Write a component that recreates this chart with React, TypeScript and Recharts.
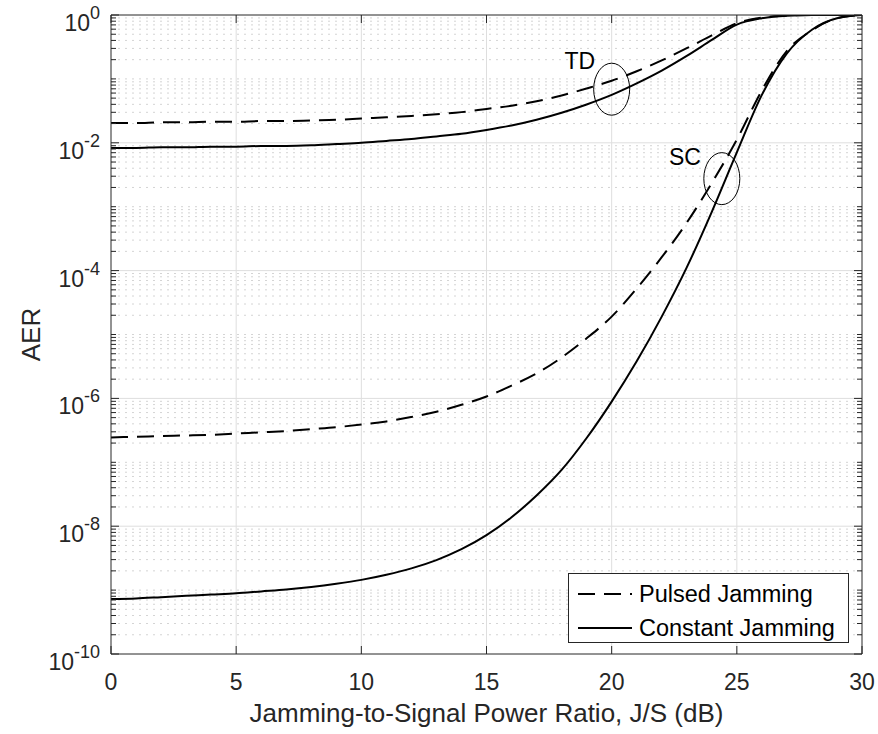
import { LineChart, Line, XAxis, YAxis, ReferenceLine, ReferenceDot } from "recharts";

const FONT = "'Liberation Sans', Arial, Helvetica, sans-serif";
const INK = "#262626";

// J/S in dB
const jsDb = [0, 1, 2, 3, 4, 5, 6, 7, 8, 9, 10, 11, 12, 13, 14, 15, 16, 17, 18, 19, 20, 21, 22, 23, 24, 25, 26, 27, 28, 29, 30];

// log10(AER)
const tdPulsedLog = [-1.69, -1.69, -1.68, -1.68, -1.67, -1.67, -1.66, -1.66, -1.65, -1.64, -1.62, -1.6, -1.58, -1.555, -1.52, -1.47, -1.42, -1.35, -1.26, -1.15, -1.03, -0.88, -0.71, -0.52, -0.32, -0.13, -0.04, -0.01, 0, 0, 0];
const tdConstLog = [-2.08, -2.08, -2.07, -2.07, -2.06, -2.06, -2.05, -2.05, -2.04, -2.02, -2.0, -1.97, -1.94, -1.9, -1.86, -1.8, -1.73, -1.64, -1.53, -1.4, -1.25, -1.07, -0.87, -0.64, -0.39, -0.15, -0.05, -0.01, 0, 0, 0];
const scPulsedLog = [-6.61, -6.6, -6.59, -6.58, -6.57, -6.55, -6.53, -6.51, -6.48, -6.45, -6.41, -6.36, -6.29, -6.21, -6.1, -5.97, -5.8, -5.61, -5.36, -5.06, -4.72, -4.28, -3.79, -3.25, -2.63, -1.95, -1.18, -0.56, -0.24, -0.05, 0];
const scConstLog = [-9.14, -9.13, -9.11, -9.09, -9.07, -9.05, -9.02, -8.99, -8.95, -8.9, -8.84, -8.76, -8.66, -8.53, -8.36, -8.14, -7.86, -7.52, -7.12, -6.62, -6.05, -5.42, -4.72, -3.95, -3.08, -2.15, -1.25, -0.6, -0.23, -0.05, 0];

const xTicks = [0, 5, 10, 15, 20, 25, 30];
const xGrid = [5, 10, 15, 20, 25];
const yMajor = [1e-10, 1e-8, 1e-6, 1e-4, 1e-2, 1];
const yMajorGrid = [1e-8, 1e-6, 1e-4, 1e-2];

const yMinor: number[] = [];
for (let k = -10; k < 0; k++) {
  for (let m = 1; m <= 9; m++) {
    if (m === 1 && k % 2 === 0) continue;
    yMinor.push(m * Math.pow(10, k));
  }
}
const yAllTicks = [...yMajor, ...yMinor].sort((a, b) => a - b);

const rows = jsDb.map((x, i) => ({
  x,
  tdPulsed: Math.pow(10, tdPulsedLog[i]),
  tdConst: Math.pow(10, tdConstLog[i]),
  scPulsed: Math.pow(10, scPulsedLog[i]),
  scConst: Math.pow(10, scConstLog[i]),
}));

const series = [
  { key: "tdPulsed", dash: "17 9", legend: "Pulsed Jamming" },
  { key: "tdConst", dash: undefined, legend: "Constant Jamming" },
  { key: "scPulsed", dash: "17 9", legend: null },
  { key: "scConst", dash: undefined, legend: null },
];

function majorExp(v: number) {
  const e = Math.log10(v);
  const r = Math.round(e);
  if (Math.abs(e - r) < 1e-6 && r % 2 === 0) return r;
  return null;
}

function LeftTick({ x, y, payload }: any) {
  const exp = majorExp(payload.value);
  return (
    <g>
      <line x1={x} x2={x + (exp !== null ? 8 : 5)} y1={y} y2={y} stroke={INK} />
      {exp !== null && (
        <text x={x - 11} y={y + 16} textAnchor="end" fill={INK} fontSize={23} fontFamily={FONT}>
          <tspan>10</tspan>
          <tspan dy={-12} fontSize={18}>{String(exp)}</tspan>
        </text>
      )}
    </g>
  );
}

function RightTick({ x, y, payload }: any) {
  const exp = majorExp(payload.value);
  return <line x1={x} x2={x - (exp !== null ? 8 : 5)} y1={y} y2={y} stroke={INK} />;
}

function BottomTick({ x, y, payload }: any) {
  return (
    <g>
      <line x1={x} x2={x} y1={y} y2={y - 8} stroke={INK} />
      <text x={x} y={y + 36} textAnchor="middle" fill={INK} fontSize={23} fontFamily={FONT}>
        {payload.value}
      </text>
    </g>
  );
}

function TopTick({ x, y }: any) {
  return <line x1={x} x2={x} y1={y} y2={y + 8} stroke={INK} />;
}

function YLabel({ viewBox }: any) {
  const cy = (viewBox?.y ?? 15) + (viewBox?.height ?? 639) / 2;
  return (
    <text x={40} y={cy} transform={`rotate(-90 40 ${cy})`} textAnchor="middle" fill={INK} fontSize={26} fontFamily={FONT}>
      AER
    </text>
  );
}

const ellipse = (props: any) => (
  <ellipse cx={props.cx} cy={props.cy} rx={18} ry={26} fill="none" stroke="#000" strokeWidth={1} />
);

const tag = (label: string) => (props: any) => (
  <text x={props.cx} y={props.cy + 8} textAnchor="middle" fill="#000" fontSize={23} fontFamily={FONT}>
    {label}
  </text>
);

export default function App() {
  return (
    <div style={{ position: "absolute", left: 0, top: 0, width: 878, height: 734, background: "#fff" }}>
      <LineChart width={878} height={734} data={rows} margin={{ top: 0, right: 0, bottom: 0, left: 0 }}>
        {yMinor.map((v) => (
          <ReferenceLine key={"m" + v} y={v} stroke="#d4d4d4" strokeDasharray="2 5" />
        ))}
        {yMajorGrid.map((v) => (
          <ReferenceLine key={"M" + v} y={v} stroke="#dedede" />
        ))}
        {xGrid.map((v) => (
          <ReferenceLine key={"x" + v} x={v} stroke="#dedede" />
        ))}
        <XAxis
          dataKey="x"
          type="number"
          domain={[0, 30]}
          allowDataOverflow
          ticks={xTicks}
          interval={0}
          height={80}
          tickSize={0}
          tickMargin={0}
          tickLine={false}
          axisLine={{ stroke: INK }}
          tick={<BottomTick />}
          label={{
            value: "Jamming-to-Signal Power Ratio, J/S (dB)",
            position: "insideBottom",
            offset: 12,
            style: { fontSize: 26, fontFamily: FONT, fill: INK },
          }}
        />
        <XAxis
          xAxisId="top"
          orientation="top"
          type="number"
          domain={[0, 30]}
          allowDataOverflow
          ticks={xTicks}
          interval={0}
          height={15}
          tickSize={0}
          tickMargin={0}
          tickLine={false}
          axisLine={{ stroke: INK }}
          tick={<TopTick />}
        />
        <YAxis
          type="number"
          scale="log"
          domain={[1e-10, 1]}
          allowDataOverflow
          ticks={yAllTicks}
          interval={0}
          width={111}
          tickSize={0}
          tickMargin={0}
          tickLine={false}
          axisLine={{ stroke: INK }}
          tick={<LeftTick />}
          label={<YLabel />}
        />
        <YAxis
          yAxisId="right"
          orientation="right"
          type="number"
          scale="log"
          domain={[1e-10, 1]}
          allowDataOverflow
          ticks={yAllTicks}
          interval={0}
          width={16}
          tickSize={0}
          tickMargin={0}
          tickLine={false}
          axisLine={{ stroke: INK }}
          tick={<RightTick />}
        />
        {series.map((s) => (
          <Line
            key={s.key}
            type="monotone"
            dataKey={s.key}
            stroke="#000"
            strokeWidth={2}
            strokeDasharray={s.dash}
            dot={false}
            activeDot={false}
            isAnimationActive={false}
          />
        ))}
        <ReferenceDot x={20} y={0.069} shape={ellipse} />
        <ReferenceDot x={24.4} y={2.75e-3} shape={ellipse} />
        <ReferenceDot x={18.73} y={0.19} shape={tag("TD")} />
        <ReferenceDot x={22.93} y={6.0e-3} shape={tag("SC")} />
      </LineChart>
      <div
        style={{
          position: "absolute",
          left: 568,
          top: 573,
          width: 279,
          height: 68,
          border: `1px solid ${INK}`,
          background: "#fff",
          fontFamily: FONT,
          fontSize: 23.5,
          color: "#000",
        }}
      >
        {series
          .filter((s) => s.legend)
          .map((s, i) => (
            <div key={s.key} style={{ position: "absolute", left: 9, top: 6 + i * 34, height: 28, display: "flex", alignItems: "center", whiteSpace: "nowrap" }}>
              <svg width={54} height={4} style={{ display: "block" }}>
                <line x1={0} x2={54} y1={2} y2={2} stroke="#000" strokeWidth={2} strokeDasharray={s.dash ? "17 9" : undefined} />
              </svg>
              <span style={{ marginLeft: 7 }}>{s.legend}</span>
            </div>
          ))}
      </div>
    </div>
  );
}
